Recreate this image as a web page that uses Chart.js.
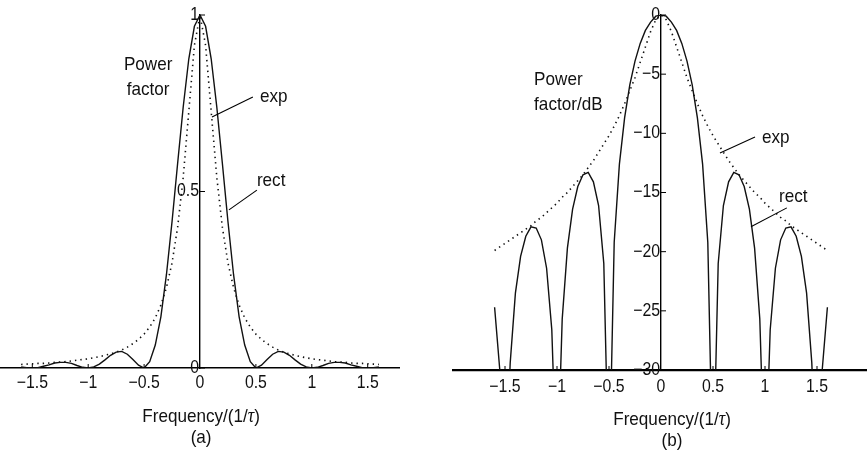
<!DOCTYPE html>
<html>
<head>
<meta charset="utf-8">
<title>Power factor spectra</title>
<script src="https://cdn.jsdelivr.net/npm/chart.js@4.4.1/dist/chart.umd.min.js"></script>
<style>
  html, body { margin: 0; padding: 0; background: #fff; overflow: hidden; }
  #wrap { position: relative; width: 867px; height: 454px; overflow: hidden; }
  .panel { position: absolute; top: 0; height: 454px; }
  #panelA { left: 0; width: 430px; }
  #panelB { left: 430px; width: 440px; }
</style>
</head>
<body>
<div id="wrap">
  <div class="panel" id="panelA"><canvas id="chartA"></canvas></div>
  <div class="panel" id="panelB"><canvas id="chartB"></canvas></div>
</div>
<script>
// frequency samples, in units of 1/tau
const freq = [-1.6, -1.55, -1.5, -1.45, -1.4, -1.35, -1.3, -1.25, -1.2, -1.15, -1.1, -1.05,
  -1.0, -0.95, -0.9, -0.85, -0.8, -0.75, -0.7, -0.65, -0.6, -0.55, -0.5, -0.45, -0.4, -0.35,
  -0.3, -0.25, -0.2, -0.15, -0.1, -0.05, 0, 0.05, 0.1, 0.15, 0.2, 0.25, 0.3, 0.35, 0.4, 0.45,
  0.5, 0.55, 0.6, 0.65, 0.7, 0.75, 0.8, 0.85, 0.9, 0.95, 1.0, 1.05, 1.1, 1.15, 1.2, 1.25, 1.3,
  1.35, 1.4, 1.45, 1.5, 1.55, 1.6];

// (a) linear power factor
const rectLinear = [0.003, 0.001, 0, 0.001, 0.005, 0.009, 0.014, 0.016, 0.016, 0.013, 0.007, 0.002,
  0, 0.003, 0.011, 0.023, 0.036, 0.045, 0.047, 0.039, 0.024, 0.008, 0, 0.018, 0.065, 0.145,
  0.265, 0.415, 0.580, 0.740, 0.876, 0.968, 1, 0.968, 0.876, 0.740, 0.580, 0.415, 0.265, 0.145,
  0.065, 0.018, 0, 0.008, 0.024, 0.039, 0.047, 0.045, 0.036, 0.023, 0.011, 0.003, 0, 0.002,
  0.007, 0.013, 0.016, 0.016, 0.014, 0.009, 0.005, 0.001, 0, 0.001, 0.003];
const expLinear = [0.010, 0.011, 0.012, 0.013, 0.013, 0.014, 0.016, 0.017, 0.018, 0.020, 0.022, 0.024,
  0.026, 0.029, 0.032, 0.036, 0.040, 0.045, 0.051, 0.059, 0.069, 0.081, 0.096, 0.116, 0.142, 0.178,
  0.228, 0.298, 0.399, 0.541, 0.727, 0.914, 1, 0.914, 0.727, 0.541, 0.399, 0.298, 0.228, 0.178,
  0.142, 0.116, 0.096, 0.081, 0.069, 0.059, 0.051, 0.045, 0.040, 0.036, 0.032, 0.029, 0.026, 0.024,
  0.022, 0.020, 0.018, 0.017, 0.016, 0.014, 0.013, 0.013, 0.012, 0.011, 0.010];

// (b) power factor in dB (nulls fall below the -30 dB floor)
const rectDb = [-24.7, -30.0, -40, -29.4, -23.5, -20.4, -18.7, -17.9, -18.0, -19.0, -21.4, -26.6,
  -40, -25.7, -19.7, -16.4, -14.5, -13.5, -13.3, -14.1, -16.1, -21.0, -40, -19.2, -12.6, -8.7,
  -5.9, -3.9, -2.4, -1.3, -0.6, -0.1, 0, -0.1, -0.6, -1.3, -2.4, -3.9, -5.9, -8.7,
  -12.6, -19.2, -40, -21.0, -16.1, -14.1, -13.3, -13.5, -14.5, -16.4, -19.7, -25.7, -40, -26.6,
  -21.4, -19.0, -18.0, -17.9, -18.7, -20.4, -23.5, -29.4, -40, -30.0, -24.7];
const expDb = [-19.9, -19.6, -19.3, -19.0, -18.7, -18.4, -18.1, -17.8, -17.4, -17.1, -16.7, -16.3,
  -15.9, -15.4, -15.0, -14.5, -14.0, -13.5, -12.9, -12.3, -11.6, -10.9, -10.2, -9.4, -8.5, -7.5,
  -6.4, -5.3, -4.0, -2.7, -1.4, -0.4, 0, -0.4, -1.4, -2.7, -4.0, -5.3, -6.4, -7.5,
  -8.5, -9.4, -10.2, -10.9, -11.6, -12.3, -12.9, -13.5, -14.0, -14.5, -15.0, -15.4, -15.9, -16.3,
  -16.7, -17.1, -17.4, -17.8, -18.1, -18.4, -18.7, -19.0, -19.3, -19.6, -19.9];

// tick labels
const xTicks = [-1.5, -1, -0.5, 0, 0.5, 1, 1.5];
const yTicksA = [0, 0.5, 1];
const yTicksB = [-30, -25, -20, -15, -10, -5, 0];

const SANS = "'Liberation Sans', Arial, sans-serif";
const TICK_FONT = '18px ' + SANS;
const TEXT_FONT = '19px ' + SANS;
const INK = '#111';

function fmt(v) {
    return String(v).replace('-', '\u2212');
}

function toPoints(ys) {
    return freq.map((f, i) => ({ x: f, y: ys[i] }));
}

function datasets(rect, exp) {
    return [{
        label: 'rect',
        data: toPoints(rect),
        borderColor: INK,
        borderWidth: 1.4,
        pointRadius: 0,
        tension: 0
    }, {
        label: 'exp',
        data: toPoints(exp),
        borderColor: INK,
        borderWidth: 1.6,
        borderDash: [1.4, 4],
        pointRadius: 0,
        tension: 0
    }];
}

function axis(min, max, pos, width) {
    return {
        type: 'linear',
        min: min,
        max: max,
        position: pos,
        border: { display: true, color: '#000', width: width },
        grid: { drawOnChartArea: false, drawTicks: false },
        ticks: { display: false }
    };
}

// the original lettering is a condensed face, so squeeze it horizontally
function squeezeText(ctx, str, x, y, align, k) {
    ctx.save();
    ctx.translate(x, y);
    ctx.scale(k, 1);
    ctx.textAlign = align;
    ctx.fillText(str, 0, 0);
    ctx.restore();
}

function drawFreqTitle(ctx, cx, cy, tag) {
    const k = 0.9;
    const serif = "italic 20px 'Liberation Serif', 'DejaVu Serif', serif";
    const parts = [['Frequency/(1/', TEXT_FONT], ['\u03c4', serif], [')', TEXT_FONT]];
    let total = 0;
    parts.forEach(p => { ctx.font = p[1]; total += ctx.measureText(p[0]).width * k; });
    let x = cx - total / 2;
    parts.forEach(p => {
        ctx.font = p[1];
        squeezeText(ctx, p[0], x, cy, 'left', k);
        x += ctx.measureText(p[0]).width * k;
    });
    ctx.font = TEXT_FONT;
    squeezeText(ctx, tag, cx, cy + 21, 'center', k);
}

// ticks, labels, titles and callouts drawn over the chart
function notesPlugin(notes) {
    return {
        id: 'notes',
        afterDraw(chart) {
            const ctx = chart.ctx;
            const sx = chart.scales.x, sy = chart.scales.y;
            const ax = sx.getPixelForValue(0);
            const ay = sy.getPixelForValue(notes.floor);
            ctx.save();
            ctx.fillStyle = INK;
            ctx.strokeStyle = '#000';
            ctx.lineWidth = 1;
            ctx.font = TICK_FONT;
            ctx.textBaseline = 'middle';

            notes.xTicks.forEach(v => {
                const px = sx.getPixelForValue(v);
                if (v !== 0) {
                    ctx.beginPath();
                    ctx.moveTo(px, ay);
                    ctx.lineTo(px, ay - 4);
                    ctx.stroke();
                }
                squeezeText(ctx, fmt(v), px, ay + notes.xLabelGap, 'center', 0.88);
            });
            notes.yTicks.forEach(v => {
                const py = sy.getPixelForValue(v);
                ctx.beginPath();
                ctx.moveTo(ax, py);
                ctx.lineTo(ax + 5, py);
                ctx.stroke();
                squeezeText(ctx, fmt(v), ax - 1, py, 'right', 0.88);
            });

            ctx.lineWidth = 1.1;
            notes.lines.forEach(l => {
                ctx.beginPath();
                ctx.moveTo(sx.getPixelForValue(l[0]), sy.getPixelForValue(l[1]));
                ctx.lineTo(sx.getPixelForValue(l[2]), sy.getPixelForValue(l[3]));
                ctx.stroke();
            });
            ctx.font = TEXT_FONT;
            notes.texts.forEach(t => {
                squeezeText(ctx, t[0], sx.getPixelForValue(t[1]), sy.getPixelForValue(t[2]), t[3] || 'left', 0.9);
            });
            drawFreqTitle(ctx, sx.getPixelForValue(notes.title[0]), notes.title[1], notes.title[2]);
            ctx.restore();
        }
    };
}

function makeChart(id, data, scales, padding, notes) {
    return new Chart(document.getElementById(id), {
        type: 'line',
        data: { datasets: data },
        options: {
            responsive: true,
            maintainAspectRatio: false,
            animation: false,
            layout: { padding: padding },
            plugins: { legend: { display: false }, tooltip: { enabled: false } },
            scales: scales
        },
        plugins: [notesPlugin(notes)]
    });
}

makeChart('chartA', datasets(rectLinear, expLinear), {
    x: axis(-1.78, 1.78, { y: 0 }, 1.6),
    y: axis(0, 1, { x: 0 }, 1.4)
}, { left: 1, right: 31, top: 15, bottom: 86 }, {
    floor: 0,
    xTicks: xTicks,
    yTicks: yTicksA,
    xLabelGap: 15,
    lines: [[0.107, 0.711, 0.473, 0.768], [0.259, 0.448, 0.509, 0.504]],
    texts: [['Power', -0.464, 0.858, 'center'], ['factor', -0.464, 0.788, 'center'],
            ['exp', 0.536, 0.768], ['rect', 0.509, 0.53]],
    title: [0.01, 417, '(a)']
});

makeChart('chartB', datasets(rectDb, expDb), {
    x: axis(-2, 2, { y: -30 }, 2.2),
    y: axis(-30, 0, { x: 0 }, 1.4)
}, { left: 23, right: 1, top: 15, bottom: 84 }, {
    floor: -30,
    xTicks: xTicks,
    yTicks: yTicksB,
    xLabelGap: 17,
    lines: [[0.567, -11.67, 0.904, -10.3], [0.865, -17.9, 1.21, -16.3]],
    texts: [['Power', -1.22, -5.49], ['factor/dB', -1.22, -7.6],
            ['exp', 0.971, -10.4], ['rect', 1.135, -15.4]],
    title: [0.106, 420, '(b)']
});
</script>
</body>
</html>
